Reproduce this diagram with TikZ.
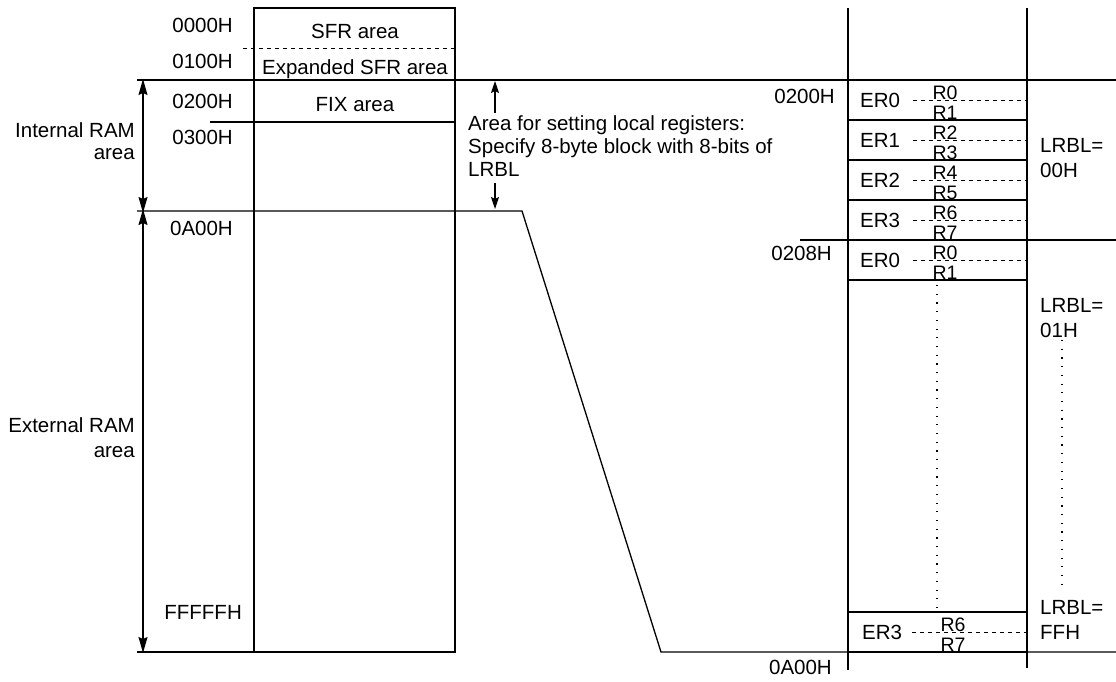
\documentclass[tikz,border=0pt]{standalone}
\usepackage{fontspec}
\setmainfont{Liberation Sans}
\usetikzlibrary{arrows.meta}
\begin{document}
\begin{tikzpicture}[x=1pt,y=-1pt,
  thin line/.style={line width=1.3pt},
  thick line/.style={line width=2pt},
  dash line/.style={line width=1pt,dash pattern=on 4pt off 4pt},
  dot line/.style={line width=1.2pt,dash pattern=on 1.2pt off 7.5pt},
  big arrow/.style={thin line,{Stealth[length=16pt,width=9pt,inset=2pt]}-{Stealth[length=16pt,width=9pt,inset=2pt]}},
  small tip/.style={thin line,-{Stealth[length=12pt,width=8pt,inset=2pt]}},
  lbl/.style={inner sep=0pt,font=\fontsize{20.5}{24}\selectfont},
  rlbl/.style={inner sep=0pt,font=\fontsize{19.5}{20}\selectfont,anchor=base},
]
\useasboundingbox (0,0) rectangle (1116,681);
% coordinates
\coordinate (boxTL) at (254,8);
\coordinate (boxBR) at (455,652);
% left memory map
\draw[thin line] (boxTL) rectangle (boxBR);
\draw[dash line] (243,48) -- (455,48);
\draw[thin line] (137,80) -- (1116,80);
\draw[thin line] (210,122) -- (455,122);
\coordinate (slTop) at (522,211);
\coordinate (slBot) at (661,652);
\draw[thin line] (137,211) -- (slTop) -- (slBot) -- (1116,652);
\draw[thin line] (137,652) -- (455,652);
% arrows RAM
\coordinate (iA) at (143,80);
\coordinate (iB) at (143,211);
\coordinate (eA) at (143,211);
\coordinate (eB) at (143,652);
\draw[big arrow] ([yshift=1pt]iA) -- ([yshift=-2pt]iB);
\draw[big arrow] ([yshift=2pt]eA) -- ([yshift=-1pt]eB);
% area arrows
\coordinate (uA) at (495,113);
\coordinate (uB) at (495,81);
\coordinate (dA) at (495,183);
\coordinate (dB) at (495,209);
\draw[small tip] (uA) -- (uB);
\draw[small tip] (dA) -- (dB);
% left labels
\node[lbl,anchor=base east] (l0000) at (233,32.5) {0000H};
\node[lbl,anchor=base east] (l0100) at (233,68.5) {0100H};
\node[lbl,anchor=base east] (l0200) at (233,108.5) {0200H};
\node[lbl,anchor=base east] (l0300) at (233,144.5) {0300H};
\node[lbl,anchor=base east] (l0A00) at (233,235.5) {0A00H};
\node[lbl,anchor=base east] (lFFFF) at (242,619.5) {FFFFFH};
\node[lbl,anchor=base east] (intA) at (135,137.5) {Internal RAM};
\node[lbl,anchor=base east] (intB) at (135,159.5) {area};
\node[lbl,anchor=base east] (extA) at (135,432.5) {External RAM};
\node[lbl,anchor=base east] (extB) at (135,457.5) {area};
\node[lbl,anchor=base] (sfr) at (355,38.5) {SFR area};
\node[lbl,anchor=base] (esfr) at (355,74.5) {Expanded SFR area};
\node[lbl,anchor=base] (fix) at (355,111.5) {FIX area};
\node[lbl,anchor=base west] (areaA) at (468,130) {Area for setting local registers:};
\node[lbl,anchor=base west] (areaB) at (468,153) {Specify 8-byte block with 8-bits of};
\node[lbl,anchor=base west] (areaC) at (468,176) {LRBL};
% right panel
\draw[thin line] (848,8) -- (848,670);
\draw[thin line] (1027,8) -- (1027,668);
\draw[thin line] (800,240) -- (1116,240);
\foreach \y in {80,120,160,200,240,280,612,652}
  \draw[thick line] (848,\y) -- (1027,\y);
\node[lbl,anchor=base east] (r0200) at (835,103.5) {0200H};
\node[lbl,anchor=base east] (r0208) at (832,260.5) {0208H};
\node[lbl,anchor=base east] (r0A00) at (832,674.5) {0A00H};
% registers
\foreach \i/\er/\ra/\rb in {0/ER0/R0/R1,1/ER1/R2/R3,2/ER2/R4/R5,3/ER3/R6/R7,4/ER0/R0/R1}{
  \pgfmathsetmacro{\yc}{100+40*\i}
  \draw[dash line] (913,\yc) -- (1027,\yc);
  \node[lbl,anchor=base west] (er\i) at (860,\yc+7.5) {\er};
  \node[rlbl] (ra\i) at (945,\yc-1) {\ra};
  \node[rlbl] (rb\i) at (945,\yc+19) {\rb};
}
\draw[dash line] (912,632) -- (1027,632);
\node[lbl,anchor=base west] (er5) at (862,639.5) {ER3};
\node[rlbl] (ra5) at (953,631) {R6};
\node[rlbl] (rb5) at (953,651) {R7};
% dotted
\draw[dot line] (937,285) -- (937,608);
\draw[dot line] (1062,340) -- (1062,592);
% LRBL labels
\node[lbl,anchor=base west] (lrA1) at (1040,152.5) {LRBL=};
\node[lbl,anchor=base west] (lrA2) at (1040,177.5) {00H};
\node[lbl,anchor=base west] (lrB1) at (1040,312.5) {LRBL=};
\node[lbl,anchor=base west] (lrB2) at (1040,337.5) {01H};
\node[lbl,anchor=base west] (lrC1) at (1040,614.5) {LRBL=};
\node[lbl,anchor=base west] (lrC2) at (1040,639.5) {FFH};
\end{tikzpicture}
\end{document}
